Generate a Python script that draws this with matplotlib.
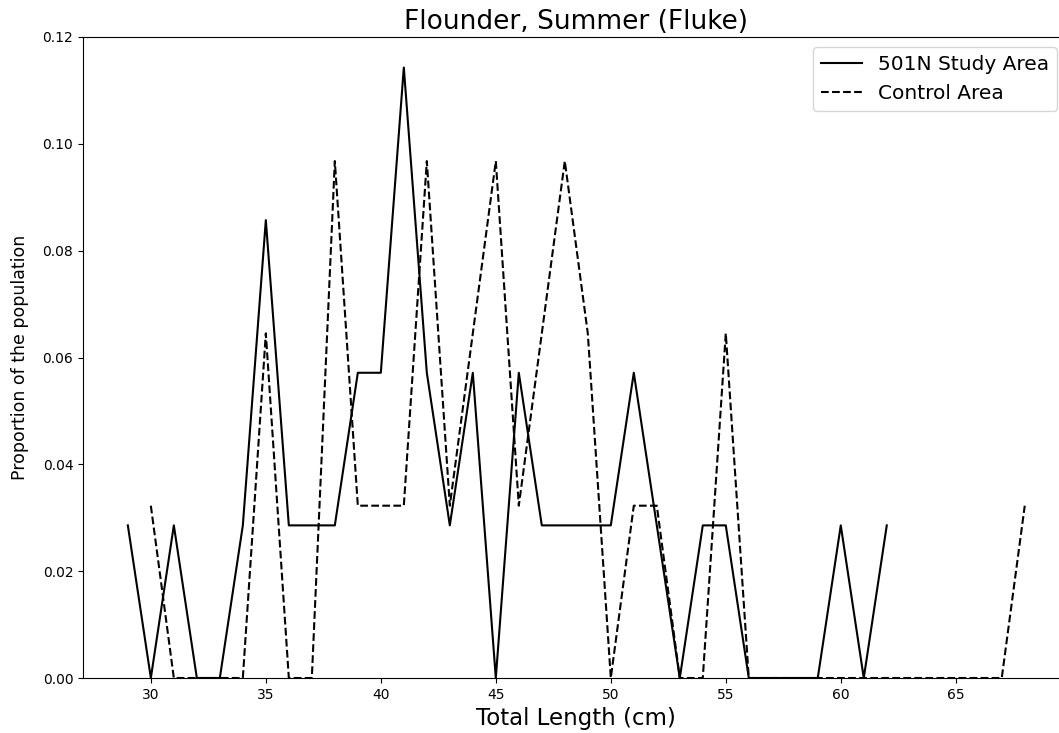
import matplotlib
matplotlib.use("Agg")
import matplotlib.pyplot as plt
import numpy as np

# Length-frequency proportions by total length (cm)
study_lengths = list(range(29, 63))
study_props = [
    1/35, 0, 1/35, 0, 0, 1/35, 3/35, 1/35, 1/35, 1/35,
    2/35, 2/35, 4/35, 2/35, 1/35, 2/35, 0, 2/35, 1/35, 1/35,
    1/35, 1/35, 2/35, 1/35, 0, 1/35, 1/35, 0, 0, 0,
    0, 1/35, 0, 1/35,
]

control_lengths = list(range(30, 69))
control_props = [
    1/31, 0, 0, 0, 0, 2/31, 0, 0, 3/31, 1/31,
    1/31, 1/31, 3/31, 1/31, 2/31, 3/31, 1/31, 2/31, 3/31, 2/31,
    0, 1/31, 1/31, 0, 0, 2/31, 0, 0, 0, 0,
    0, 0, 0, 0, 0, 0, 0, 0, 1/31,
]

W, H, DPI = 1059, 733, 100
fig = plt.figure(figsize=(W / DPI, H / DPI), dpi=DPI)
left, right, top, bottom = 83.0, 1069.6, 37.0, 678.0
ax_w = right - left
ax = fig.add_axes([left / W, 1 - bottom / H, ax_w / W, (bottom - top) / H])

ax.plot(study_lengths, study_props, color="black", linestyle="-", linewidth=1.5,
        label="501N Study Area")
ax.plot(control_lengths, control_props, color="black", linestyle="--", linewidth=1.5,
        label="Control Area")

ax.set_xlim(27.05, 69.95)
ax.set_ylim(0, 0.12)
ax.set_xticks([30, 35, 40, 45, 50, 55, 60, 65])
ax.set_yticks(np.arange(0, 0.121, 0.02))
ax.yaxis.set_major_formatter(matplotlib.ticker.FormatStrFormatter("%.2f"))
ax.tick_params(labelsize=10)

ax.set_title("Flounder, Summer (Fluke)", fontsize=19)
ax.set_xlabel("Total Length (cm)", fontsize=16.5)
ax.set_ylabel("Proportion of the population", fontsize=12.5)
ax.yaxis.set_label_coords((29.0 - left) / ax_w, 0.5)

pad_px = 0.5 * 14.5 * DPI / 72
leg = ax.legend(fontsize=14.5, loc="upper right",
                bbox_to_anchor=((1057 + pad_px - left) / ax_w, 1.0))

fig.savefig("out.png", dpi=DPI)
